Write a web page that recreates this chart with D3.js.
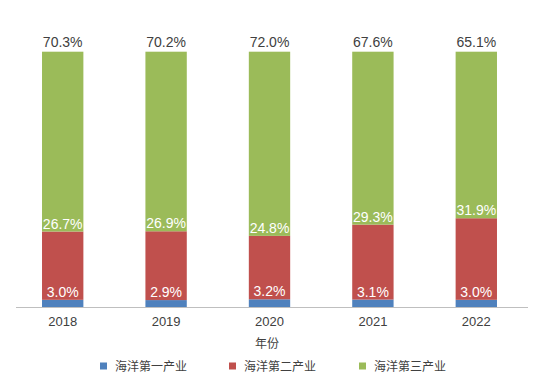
<!DOCTYPE html>
<html>
<head>
<meta charset="utf-8">
<script src="https://cdn.jsdelivr.net/npm/d3@7.9.0/dist/d3.min.js"></script>
<style>
  body { margin: 0; background: #fff; }
  text { font-family: "Liberation Sans", Arial, "Noto Sans CJK SC", sans-serif; }
</style>
</head>
<body>
<div id="chart"></div>
<script>
// data (percent share of marine economy)
const years = ["2018", "2019", "2020", "2021", "2022"];
const primary = [3.0, 2.9, 3.2, 3.1, 3.0];
const secondary = [26.7, 26.9, 24.8, 29.3, 31.9];
const tertiary = [70.3, 70.2, 72.0, 67.6, 65.1];
const seriesNames = ["海洋第一产业", "海洋第二产业", "海洋第三产业"];
const colors = ["#4f81bd", "#c0504d", "#9bbb59"];

const width = 541, height = 378;
const svg = d3.select("#chart")
  .append("svg")
    .attr("width", width)
    .attr("height", height);

const rows = years.map((y, i) => ({year: y, s0: primary[i], s1: secondary[i], s2: tertiary[i]}));
const stack = d3.stack().keys(["s0", "s1", "s2"]);
const layers = stack(rows);

const x = d3.scaleBand()
    .domain(years)
    .range([11, 528])
    .paddingInner(0.6)
    .paddingOuter(0.3);

const y = d3.scaleLinear()
    .domain([0, 100])
    .range([307.5, 51.7]);

// bars
svg.append("g")
  .selectAll("g")
  .data(layers)
  .join("g")
    .attr("fill", (d, i) => colors[i])
  .selectAll("rect")
  .data(d => d)
  .join("rect")
    .attr("x", d => x(d.data.year))
    .attr("y", d => y(d[1]))
    .attr("width", x.bandwidth())
    .attr("height", d => y(d[0]) - y(d[1]));

// value labels sit just above each segment
layers.forEach((layer, i) => {
  svg.append("g")
    .selectAll("text")
    .data(layer)
    .join("text")
      .attr("x", d => x(d.data.year) + x.bandwidth() / 2)
      .attr("y", d => y(d[1]) - (i === 2 ? 5 : 3))
      .attr("text-anchor", "middle")
      .style("font-size", "14px")
      .style("fill", i === 2 ? "#404040" : "#ffffff")
      .text(d => (d[1] - d[0]).toFixed(1) + "%");
});

// x axis
const xAxis = svg.append("g")
    .attr("transform", "translate(0,307.5)")
    .call(d3.axisBottom(x).tickSize(0).tickPadding(9));
xAxis.select(".domain").remove();
xAxis.append("line")
    .attr("x1", 16).attr("x2", 528)
    .attr("stroke", "#bfbfbf");
xAxis.selectAll(".tick text")
    .style("font-size", "13px")
    .style("fill", "#404040")
    .style("font-family", "\"Liberation Sans\", Arial, sans-serif");

svg.append("text")
    .attr("x", 267)
    .attr("y", 348)
    .attr("text-anchor", "middle")
    .style("font-size", "12px")
    .style("fill", "#404040")
    .text("年份");

// legend
const legendX = [100, 229, 359];
const legend = svg.append("g")
  .selectAll("g")
  .data(seriesNames)
  .join("g")
    .attr("transform", (d, i) => `translate(${legendX[i]},366)`);
legend.append("rect")
    .attr("x", 0).attr("y", -3.5)
    .attr("width", 7).attr("height", 7)
    .attr("fill", (d, i) => colors[i]);
legend.append("text")
    .attr("x", 15)
    .attr("y", 4.5)
    .style("font-size", "12px")
    .style("fill", "#404040")
    .text(d => d);
</script>
</body>
</html>
